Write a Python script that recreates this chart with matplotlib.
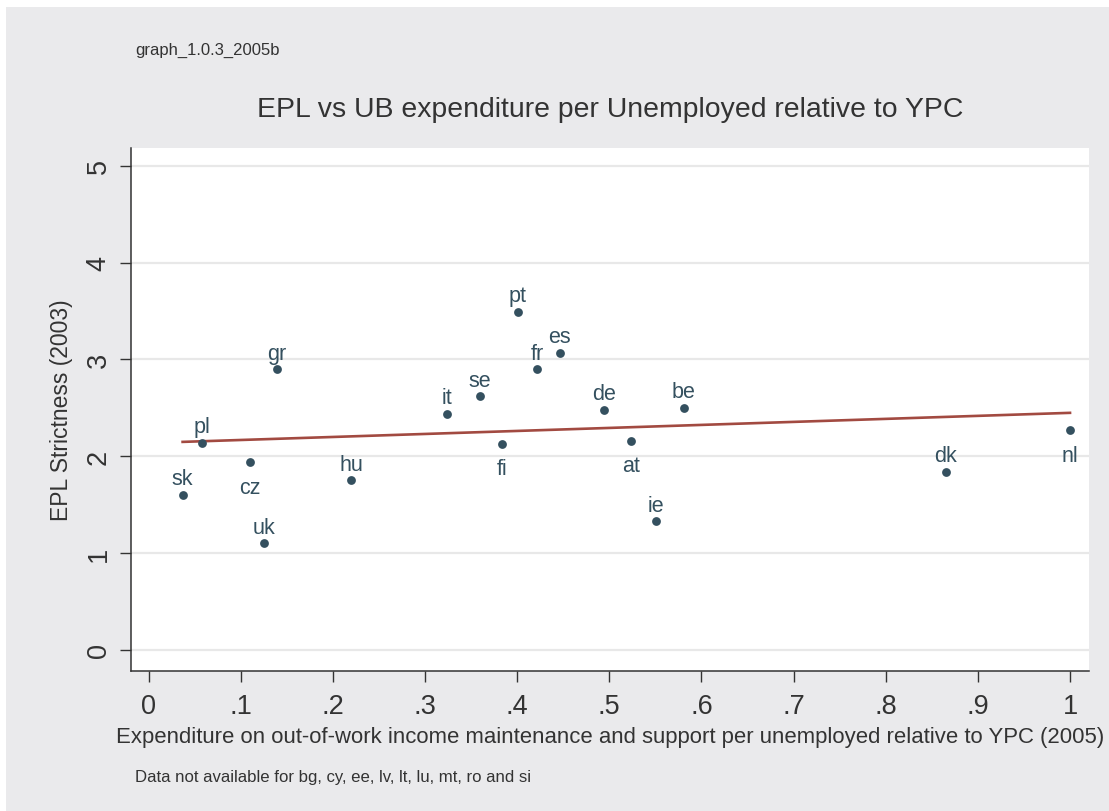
import numpy as np
import matplotlib
matplotlib.use("Agg")
import matplotlib.pyplot as plt
from matplotlib.patches import Rectangle

plt.rcParams['font.family'] = ['Liberation Sans', 'DejaVu Sans']

# ---- data ----
countries = ["sk", "pl", "cz", "uk", "gr", "hu", "it", "se", "fi",
             "pt", "fr", "es", "de", "at", "ie", "be", "dk", "nl"]
ub_exp = [0.037, 0.058, 0.110, 0.125, 0.139, 0.220, 0.324, 0.360, 0.384,
          0.401, 0.422, 0.446, 0.494, 0.524, 0.551, 0.581, 0.865, 1.000]
epl = [1.60, 2.14, 1.94, 1.10, 2.90, 1.75, 2.44, 2.62, 2.13,
       3.49, 2.90, 3.07, 2.48, 2.16, 1.33, 2.50, 1.84, 2.27]
label_below = ["cz", "fi", "at", "nl"]
xticks = [0, .1, .2, .3, .4, .5, .6, .7, .8, .9, 1]
xticklabels = ["0", ".1", ".2", ".3", ".4", ".5", ".6", ".7", ".8", ".9", "1"]
yticks = [0, 1, 2, 3, 4, 5]

title = "EPL vs UB expenditure per Unemployed relative to YPC"
xlabel = "Expenditure on out-of-work income maintenance and support per unemployed relative to YPC (2005)"
ylabel = "EPL Strictness (2003)"
note_top = "graph_1.0.3_2005b"
note_bottom = "Data not available for bg, cy, ee, lv, lt, lu, mt, ro and si"

# ---- figure ----
W, H = 1109, 812
fig = plt.figure(figsize=(W / 100, H / 100), dpi=100, facecolor="white")
bg = "#eaeaec"
fig.patches.append(Rectangle((6 / W, 0), 1 - 6 / W, 1 - 8 / H,
                             transform=fig.transFigure, facecolor=bg,
                             edgecolor="none", zorder=-10))

ax = fig.add_axes([131 / W, 1 - 672 / H, (1089 - 131) / W, (672 - 149) / H])
ax.set_facecolor("white")

dot_c = "#34505f"
line_c = "#a24a41"
txt_c = "#333333"

ax.scatter(ub_exp, epl, s=40, color=dot_c, zorder=3, linewidths=0)

# linear fit
xa = np.array(ub_exp)
ya = np.array(epl)
b, a = np.polyfit(xa, ya, 1)
xf = np.array([xa.min(), xa.max()])
ax.plot(xf, a + b * xf, color=line_c, lw=1.9, zorder=2)

for c, x, y in zip(countries, ub_exp, epl):
    if c in label_below:
        ax.annotate(c, (x, y), xytext=(0, -10.5), textcoords="offset points",
                    ha="center", va="top", fontsize=15.5, color=dot_c)
    else:
        ax.annotate(c, (x, y), xytext=(0, 4), textcoords="offset points",
                    ha="center", va="bottom", fontsize=15.5, color=dot_c)

ax.set_xlim(-0.019, 1.0206)
ax.set_ylim(-0.217, 5.183)
ax.set_xticks(xticks)
ax.set_xticklabels(xticklabels)
ax.set_yticks(yticks)
ax.set_yticklabels([str(t) for t in yticks], rotation=90, va="center")

ax.grid(axis="y", color="#e8e8e8", lw=1.6, zorder=0)
ax.set_axisbelow(True)

for s in ["top", "right"]:
    ax.spines[s].set_visible(False)
for s in ["left", "bottom"]:
    ax.spines[s].set_color(txt_c)
    ax.spines[s].set_linewidth(1.1)

ax.tick_params(axis="both", direction="out", length=8, width=1.0,
               color=txt_c, labelcolor=txt_c, labelsize=19.5)
ax.tick_params(axis="x", pad=8)
ax.tick_params(axis="y", pad=6)

ax.set_xlabel(xlabel, fontsize=15.9, color=txt_c, labelpad=5)
ax.set_ylabel(ylabel, fontsize=16.5, color=txt_c, labelpad=9)

fig.text(610 / W, 1 - 110 / H, title, ha="center", va="center",
         fontsize=20.4, color=txt_c)
fig.text(135 / W, 1 - 50 / H, note_top, ha="left", va="center",
         fontsize=12, color=txt_c)
fig.text(135 / W, 1 - 778 / H, note_bottom, ha="left", va="center",
         fontsize=12.1, color=txt_c)

fig.savefig("out.png", dpi=100, facecolor=fig.get_facecolor())
